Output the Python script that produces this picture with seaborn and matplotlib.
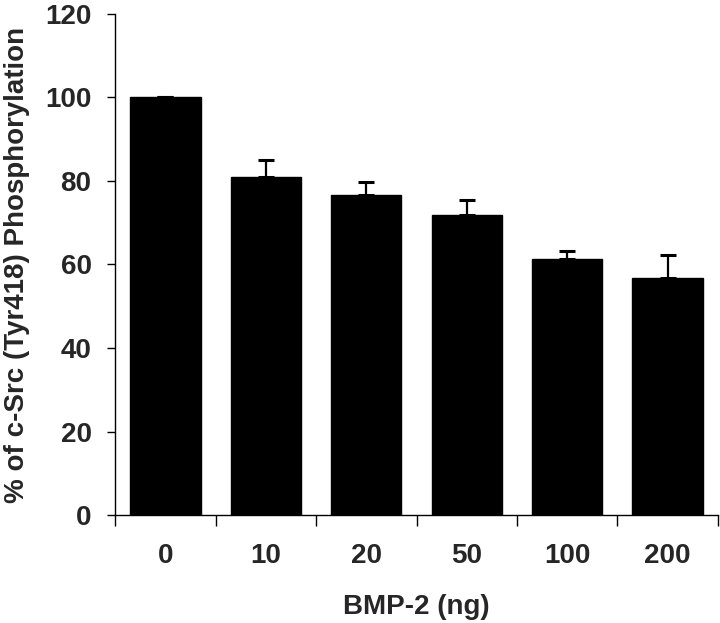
import numpy as np
import pandas as pd
import matplotlib
matplotlib.use("Agg")
import matplotlib.pyplot as plt
import seaborn as sns

# values
doses = ["0", "10", "20", "50", "100", "200"]
phospho = [100, 81, 76.7, 71.9, 61.4, 56.7]
err_up = [0, 4.1, 3.0, 3.6, 1.9, 5.6]

df = pd.DataFrame({"dose": doses, "pct": phospho})

sns.set_style("ticks")
plt.rcParams["font.family"] = ["Liberation Sans", "DejaVu Sans"]

fig = plt.figure(figsize=(7.2, 6.23), dpi=100)
ax = fig.add_axes([0.16, 0.173, 0.837, 0.805])

# error bars first so the bars cover the lower half
ax.errorbar(np.arange(len(doses)), phospho, yerr=[np.zeros(len(doses)), err_up],
            fmt="none", ecolor="black", elinewidth=1.6, capsize=6, capthick=2.2, zorder=1)
sns.barplot(data=df, x="dose", y="pct", color="black", width=0.7,
            saturation=1, edgecolor="black", ax=ax, zorder=2)

ax.set_xlim(-0.5, 5.5)
ax.set_ylim(0, 120)
ax.set_yticks(range(0, 121, 20))
ax.set_xticks(np.arange(-0.5, 5.6, 1), minor=True)
ax.tick_params(axis="x", which="major", length=0, pad=20)
ax.tick_params(axis="x", which="minor", length=8, width=1, color="black")
ax.tick_params(axis="y", length=6, width=1, color="black", pad=11)

for lab in ax.get_xticklabels() + ax.get_yticklabels():
    lab.set_fontsize(20)
    lab.set_fontweight("bold")

ax.set_xlabel("BMP-2 (ng)", fontsize=20, fontweight="bold", labelpad=18)
ax.set_ylabel("% of c-Src (Tyr418) Phosphorylation", fontsize=20, fontweight="bold", labelpad=11)

for s in ["top", "right"]:
    ax.spines[s].set_visible(False)
for s in ["left", "bottom"]:
    ax.spines[s].set_linewidth(1)
    ax.spines[s].set_color("black")

fig.savefig("out.png", dpi=100)
